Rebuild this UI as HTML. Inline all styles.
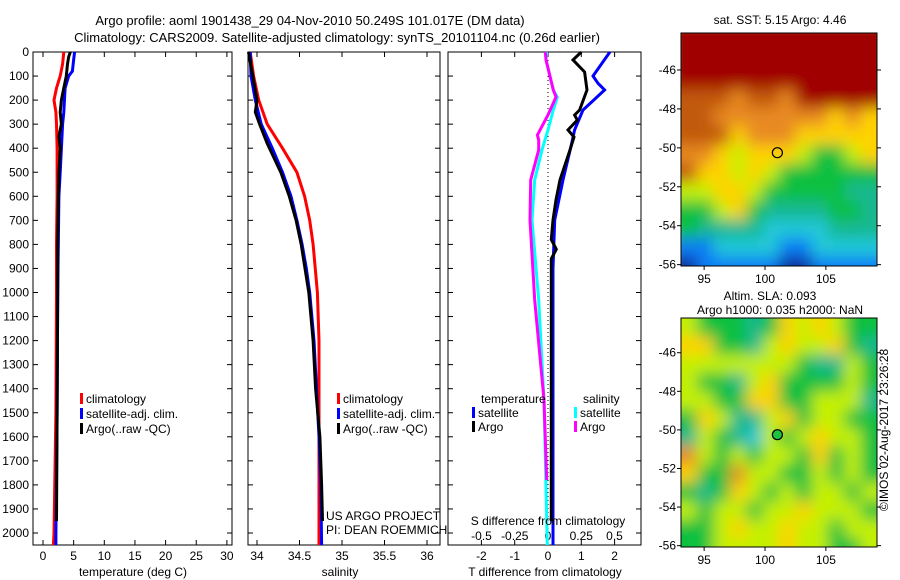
<!DOCTYPE html>
<html><head><meta charset="utf-8"><style>
html,body{margin:0;padding:0;background:#fff}
svg{display:block;font-family:"Liberation Sans",sans-serif}
</style></head><body>
<svg id="c" width="900" height="580" xmlns="http://www.w3.org/2000/svg">
<defs>
<filter id="bl" x="-5%" y="-5%" width="110%" height="110%"><feGaussianBlur stdDeviation="7.5"/></filter>
<clipPath id="cm1"><rect x="681" y="33" width="196" height="233"/></clipPath>
<clipPath id="cm2"><rect x="681" y="318" width="196" height="229"/></clipPath>
</defs>
<text x="310" y="25" font-size="13" text-anchor="middle">Argo profile: aoml 1901438_29 04-Nov-2010 50.249S 101.017E (DM data)</text>
<text x="337" y="42" font-size="13" text-anchor="middle">Climatology: CARS2009. Satellite-adjusted climatology: synTS_20101104.nc (0.26d earlier)</text>
<g id="g"></g>
<text x="888" y="430" font-size="12" text-anchor="middle" transform="rotate(-90 888 430)">©IMOS 02-Aug-2017 23:26:28</text>
</svg>
<script>
// ---- data ----
const depthTicks=[0,100,200,300,400,500,600,700,800,900,1000,1100,1200,1300,1400,1500,1600,1700,1800,1900,2000];
const tTicks=[0,5,10,15,20,25,30];
const sTicks=[34,34.5,35,35.5,36];
const sTickLabels=["34","34.5","35","35.5","36"];
const dTTicks=[-2,-1,0,1,2];
const dSTicks=[-0.5,-0.25,0,0.25,0.5];
const dSTickLabels=["-0.5","-0.25","0","0.25","0.5"];
const tClimD=[0,50,100,150,200,250,300,400,500,600,800,1000,1500,2000,2050];
const tClimV=[3.4,3.2,2.8,2.2,1.8,2.1,2.2,2.3,2.3,2.3,2.2,2.2,2.1,1.8,1.7];
const tSatD=[0,30,80,100,150,250,300,400,500,600,800,1000,1500,2000,2050];
const tSatV=[5.15,5.0,4.8,4.2,3.6,3.4,3.2,3.0,2.8,2.6,2.5,2.4,2.3,2.1,2.1];
const tArgoD=[0,20,50,100,150,200,250,300,350,400,500,600,800,1000,1500,1950];
const tArgoV=[4.46,4.2,4.0,3.8,3.4,3.0,2.8,3.0,2.6,2.8,2.6,2.5,2.4,2.4,2.3,2.2];
const sClimD=[0,100,200,300,400,500,600,700,800,1000,1200,2050];
const sClimV=[33.92,33.96,34.02,34.12,34.3,34.47,34.56,34.62,34.66,34.71,34.73,34.73];
const sSatD=[0,100,200,300,400,500,600,700,800,900,1000,1200,1400,1600,1800,2050];
const sSatV=[33.92,33.93,33.98,34.05,34.18,34.3,34.4,34.47,34.53,34.58,34.62,34.67,34.7,34.73,34.75,34.76];
const sArgoD=[0,100,200,250,300,380,500,600,700,800,1000,1200,1400,1600,1800,1950];
const sArgoV=[33.9,33.95,34.0,33.98,34.03,34.12,34.28,34.38,34.46,34.52,34.61,34.66,34.69,34.74,34.76,34.77];
const dTSatD=[0,100,130,158,241,324,387,532,699,900,1400,2050];
const dTSatV=[1.86,1.35,1.5,1.7,1.05,0.8,0.7,0.45,0.2,0.15,0.15,0.15];
const dTArgoD=[0,33,83,158,241,262,283,324,354,407,532,615,699,780,820,860,1000,1500,1950];
const dTArgoV=[1.0,0.75,1.1,1.17,0.95,0.8,0.88,0.6,0.78,0.66,0.36,0.24,0.15,0.1,0.25,0.1,0.1,0.1,0.1];
const dSSatD=[0,33,158,187,241,324,407,532,699,1031,1447,2050];
const dSSatV=[-0.01,-0.015,0.04,0.07,0.04,0,-0.045,-0.1,-0.12,-0.07,-0.03,-0.005];
const dSArgoD=[0,33,158,187,262,345,366,407,532,699,1031,1447,1780];
const dSArgoV=[-0.02,-0.015,0.04,0.06,0.0,-0.08,-0.07,-0.07,-0.13,-0.135,-0.1,-0.03,-0.01];
const sstGrid=[
[9,9,9,9,9,9,9,9,9,9,9,9],
[9,9,9,9,9,9,9,9,9,9,9,9],
[9,9,9,9,9,9,9,9,9,9,9,9],
[8,8,8,7,8,8,7,9,9,9,9,9],
[8,8,7,7,7,7,7,7,7,6,7,6],
[8,8,8,6,7,7,7,6,6,6,6,6],
[7,7,6,5,6,6,6,5,4,4,5,6],
[8,6,6,5,6,5,4,4,4,4,4,4],
[5,5,6,6,5,4,4,4,4,4,3,3],
[4,4,5,6,4,3,3,3,3,4,4,3],
[4,3,3,3,3,2,2,2,2,3,3,3],
[1,1,2,2,2,2,1,1,2,2,2,2],
[0,1,1,1,1,1,0,0,1,1,1,1]];
const slaGrid=[
[5,4,4,4,3,4,6,5,6,5,4,4],
[6,6,4,4,3,5,6,5,5,6,4,3],
[5,5,5,5,5,5,5,4,3,3,5,4],
[5,4,4,3,5,6,4,4,4,4,5,4],
[5,5,4,4,6,6,4,4,5,5,5,3],
[4,6,5,3,3,5,6,4,5,5,4,4],
[3,5,4,3,2,5,4,5,6,5,5,4],
[7,5,4,5,4,5,5,4,6,4,5,4],
[6,4,4,7,5,5,4,4,5,4,5,4],
[4,3,4,6,5,4,5,4,5,5,4,5],
[5,4,5,5,4,5,5,6,5,5,5,4],
[4,4,5,6,5,5,6,5,5,4,5,5],
[4,4,5,5,5,5,6,5,5,4,4,5]];
const palette=["#0a2a9a","#0a7ef5","#20c8d8","#12b890","#10c040","#c4f000","#ffd200","#e88a20","#c25a10","#a00000"];
const latTicks=[-46,-48,-50,-52,-54,-56];
const lonTicks=[95,100,105];
const argoLat=-50.249, argoLon=101.017;

// ---- helpers ----
const NS="http://www.w3.org/2000/svg";
const G=document.getElementById('g');
function mk(tag,at,parent){const e=document.createElementNS(NS,tag);for(const k in at)e.setAttribute(k,at[k]);(parent||G).appendChild(e);return e;}
function txt(x,y,s,anchor,size){const e=mk('text',{x:x,y:y,'font-size':size||12,'text-anchor':anchor||'middle'});e.textContent=s;return e;}
const yTop=52, yPerM=0.2405;
const yD=d=>yTop+d*yPerM;
const xT=v=>43+v*6.13;
const xS=v=>257+(v-34)*85;
const xDT=v=>548+v*33.3;
const xDS=v=>548+v*133;

function frame(x0,x1,name){
  const r=mk('rect',{x:x0,y:yTop,width:x1-x0,height:545-yTop,fill:'none',stroke:'#000','stroke-width':1});
  
  
  depthTicks.forEach(d=>{const y=yD(d);mk('line',{x1:x0,x2:x0+5,y1:y,y2:y,stroke:'#000'});mk('line',{x1:x1,x2:x1-5,y1:y,y2:y,stroke:'#000'});});
}
function line(D,V,fx,color,name){
  const p=D.map((d,i)=>fx(V[i]).toFixed(1)+','+yD(d).toFixed(1)).join(' ');
  const e=mk('polyline',{points:p,fill:'none',stroke:color,'stroke-width':3});
  
  
}
function xticks(ticks,labels,fx,x0,x1,ly,top){
  ticks.forEach((t,i)=>{const x=fx(t);mk('line',{x1:x,x2:x,y1:545,y2:540,stroke:'#000'});if(top)mk('line',{x1:x,x2:x,y1:yTop,y2:yTop+5,stroke:'#000'});
    const e=txt(x,ly,labels[i]);});
}
function legend(x,y,color,label){
  mk('rect',{x:x,y:y-10,width:3,height:11,fill:color});
  const e=txt(x+6,y,label,'start');
  
  
}

// panel 1 temperature
frame(33,232,'temperature-panel');
depthTicks.forEach(d=>{const e=txt(29,yD(d)+4,String(d),'end');});
xticks(tTicks,tTicks.map(String),xT,33,232,560,true);
line(tClimD,tClimV,xT,'#ff0000','temp-climatology-line');
line(tSatD,tSatV,xT,'#0000ff','temp-satellite-line');
line(tArgoD,tArgoV,xT,'#000000','temp-argo-line');
let e=txt(133,576,'temperature (deg C)');
legend(80,403,'#ff0000','climatology');legend(80,418,'#0000ff','satellite-adj. clim.');legend(80,433,'#000000','Argo(..raw -QC)');

// panel 2 salinity
frame(248,440,'salinity-panel');
xticks(sTicks,sTickLabels,xS,248,440,560,true);
line(sClimD,sClimV,xS,'#ff0000','sal-climatology-line');
line(sSatD,sSatV,xS,'#0000ff','sal-satellite-line');
line(sArgoD,sArgoV,xS,'#000000','sal-argo-line');
e=txt(340,576,'salinity');
legend(337,403,'#ff0000','climatology');legend(337,418,'#0000ff','satellite-adj. clim.');legend(337,433,'#000000','Argo(..raw -QC)');
e=txt(326,520,'US ARGO PROJECT','start');
e=txt(326,534,'PI: DEAN ROEMMICH','start');

// panel 3 differences
frame(448,641,'difference-panel');
mk('line',{x1:548,x2:548,y1:yTop,y2:545,stroke:'#000','stroke-dasharray':'1,3'});
xticks(dTTicks,dTTicks.map(String),xDT,448,641,560,true);
dSTicks.forEach((t,i)=>{const x=xDS(t);const e=txt(x,540,dSTickLabels[i]);});
line(dSSatD,dSSatV,xDS,'#00ffff','sdiff-satellite-line');
line(dSArgoD,dSArgoV,xDS,'#ff00ff','sdiff-argo-line');
line(dTSatD,dTSatV,xDT,'#0000ff','tdiff-satellite-line');
line(dTArgoD,dTArgoV,xDT,'#000000','tdiff-argo-line');
e=txt(548,525,'S difference from climatology');
e=txt(545,576,'T difference from climatology');
e=txt(481,403,'temperature','start');
e=txt(583,403,'salinity','start');
legend(472,417,'#0000ff','satellite');legend(472,431,'#000000','Argo');
legend(574,417,'#00ffff','satellite');legend(574,431,'#ff00ff','Argo');

// maps
const mx0=681,mx1=877,lon0=93.1,lon1=109.2;
const xL=v=>mx0+(v-lon0)/(lon1-lon0)*(mx1-mx0);
function map(y0,h,lat0,grid,clip,name,filled){
  const lat1=-56.07;
  const yL=v=>y0+(v-lat0)/(lat1-lat0)*h;
  const g=mk('g',{'clip-path':'url(#'+clip+')'});
  
  
  const inner=mk('g',{filter:'url(#bl)'},g);
  const rows=grid.length, cols=grid[0].length;
  const cw=(mx1-mx0)/cols, ch=h/(rows-0.5);
  mk('rect',{x:mx0-20,y:y0-20,width:240,height:h+40,fill:palette[grid[6][6]]},inner);
  grid.forEach((row,r)=>row.forEach((v,c)=>{
    mk('rect',{x:mx0+c*cw-(c===0?15:0),y:y0+r*ch-(r===0?15:0),width:cw+1+(c===0||c===cols-1?15:0),height:ch+1+(r===0||r===rows-1?15:0),fill:palette[v]},inner);
  }));
  mk('rect',{x:mx0,y:y0,width:mx1-mx0,height:h,fill:'none',stroke:'#000'});
  latTicks.forEach(t=>{const y=yL(t);mk('line',{x1:mx0-4,x2:mx0,y1:y,y2:y,stroke:'#000'});mk('line',{x1:mx1,x2:mx1+4,y1:y,y2:y,stroke:'#000'});
    const e=txt(mx0-5,y+4,String(t),'end');});
  lonTicks.forEach(t=>{const x=xL(t);mk('line',{x1:x,x2:x,y1:y0+h,y2:y0+h+4,stroke:'#000'});
    const e=txt(x,y0+h+17,String(t));});
  const c=mk('circle',{cx:xL(argoLon),cy:yL(argoLat),r:5,fill:(filled?'#20c040':'none'),stroke:'#000','stroke-width':1.2});
  
  
}
map(33,233,-44.1,sstGrid,'cm1','sst-map',false);
map(318,229,-44.2,slaGrid,'cm2','sla-map',true);
e=txt(780,24,'sat. SST: 5.15 Argo: 4.46');
e=txt(770,300,'Altim. SLA: 0.093');
e=txt(780,314,'Argo h1000: 0.035 h2000: NaN');
</script>
</body></html>
